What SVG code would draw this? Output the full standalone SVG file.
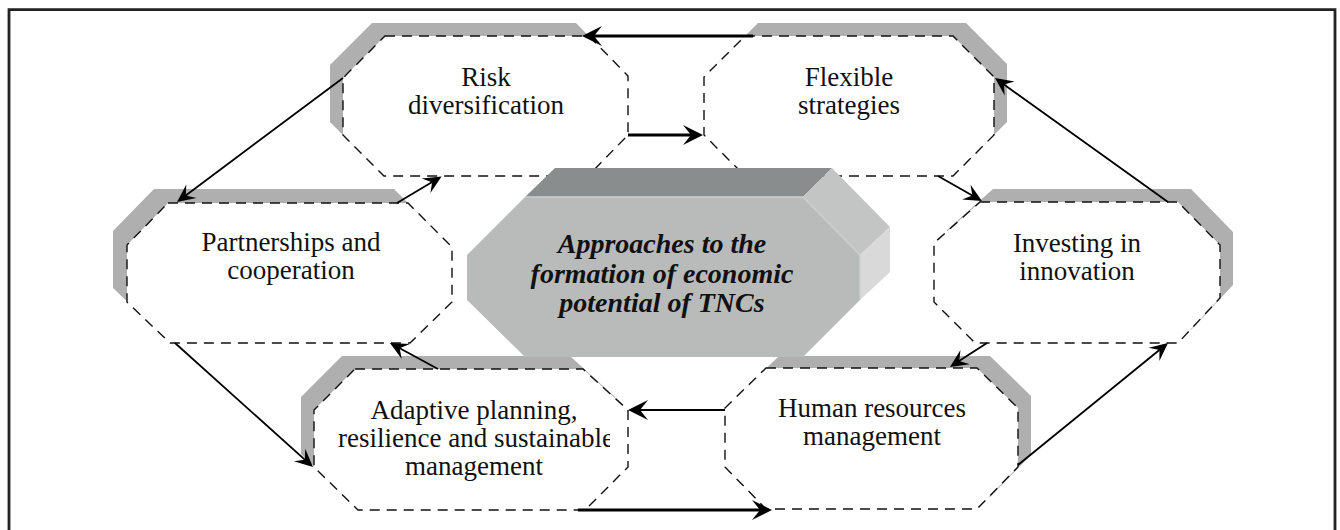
<svg xmlns="http://www.w3.org/2000/svg" width="1340" height="530" viewBox="0 0 1340 530">
  <style>
    .shadow { fill: #AFAFAF; stroke: none; }
    .oct { fill: #FFFFFF; stroke: #111111; stroke-width: 1.4; stroke-dasharray: 10 7; }
    .lbl { font-family: "Liberation Serif", "Times New Roman", serif; font-size: 27px; fill: #111111; text-anchor: middle; }
    .center { font-family: "Liberation Serif", "Times New Roman", serif; font-size: 28px; font-weight: bold; font-style: italic; fill: #111111; text-anchor: middle; }
    .thick { stroke: #000000; stroke-width: 3; fill: none; marker-end: url(#headBig); }
    .mid { stroke: #000000; stroke-width: 2.2; fill: none; marker-end: url(#headBig); }
    .thin { stroke: #000000; stroke-width: 1.8; fill: none; marker-end: url(#headSmall); }
  </style>
  <defs>
    <marker id="headBig" viewBox="-14 -12 24 24" refX="0" refY="0" markerWidth="24" markerHeight="24" markerUnits="userSpaceOnUse" orient="auto">
      <path d="M8,0 L-12,-10 L-4,0 L-12,10 Z" fill="#000000"/>
    </marker>
    <marker id="headSmall" viewBox="-12 -10 22 20" refX="0" refY="0" markerWidth="22" markerHeight="20" markerUnits="userSpaceOnUse" orient="auto">
      <path d="M8,0 L-10,-8.5 L-3,0 L-10,8.5 Z" fill="#000000"/>
    </marker>
    <clipPath id="clipAdaptive">
      <rect x="300" y="380" width="310" height="110"/>
    </clipPath>
  </defs>

  <rect x="0" y="0" width="1340" height="530" fill="#FFFFFF"/>
  <path d="M9,530 V9.7 H1335 V530" fill="none" stroke="#222222" stroke-width="2.8"/>

  <g id="node-risk">
    <polygon class="shadow" points="372,23 576,23 615,63 615,122 575,163 371,163 330,122 330,65"/>
    <polygon class="oct" points="385,36 589,36 628,76 628,135 588,176 384,176 343,135 343,78"/>
    <text class="lbl" x="486" y="86">Risk</text>
    <text class="lbl" x="486" y="114">diversification</text>
  </g>

  <g id="node-flexible">
    <polygon class="shadow" points="758,23 966,23 1007,64 1007,122 966,163 758,163 717,122 717,64"/>
    <polygon class="oct" points="745,36 953,36 994,77 994,135 953,176 745,176 704,135 704,77"/>
    <text class="lbl" x="849" y="86">Flexible</text>
    <text class="lbl" x="849" y="114">strategies</text>
  </g>

  <g id="node-partnerships">
    <polygon class="shadow" points="154,189 394,189 438,233 438,288 396,329 156,329 113,288 113,231"/>
    <polygon class="oct" points="168,203 408,203 452,247 452,302 410,343 170,343 127,302 127,245"/>
    <text class="lbl" x="291" y="251">Partnerships and</text>
    <text class="lbl" x="291" y="279">cooperation</text>
  </g>

  <g id="node-investing">
    <polygon class="shadow" points="993,189 1191,189 1233,232 1233,285 1191,330 988,330 947,289 947,230"/>
    <polygon class="oct" points="980,202 1178,202 1220,245 1220,298 1178,343 975,343 934,302 934,243"/>
    <text class="lbl" x="1077" y="252">Investing in</text>
    <text class="lbl" x="1077" y="280">innovation</text>
  </g>

  <g id="node-adaptive">
    <polygon class="shadow" points="342,356 570,356 615,397 615,454 572,497 345,497 301,454 301,397"/>
    <polygon class="oct" points="355,369 583,369 628,410 628,467 585,510 358,510 314,467 314,410"/>
    <g clip-path="url(#clipAdaptive)">
      <text class="lbl" x="474" y="419">Adaptive planning,</text>
      <text class="lbl" x="476" y="447">resilience and sustainable</text>
      <text class="lbl" x="474" y="475">management</text>
    </g>
  </g>

  <g id="node-human">
    <polygon class="shadow" points="779,356 990,356 1031,396 1031,455 990,497 779,497 738,455 738,396"/>
    <polygon class="oct" points="766,368 977,368 1018,408 1018,467 977,509 766,509 725,467 725,408"/>
    <text class="lbl" x="872" y="417">Human resources</text>
    <text class="lbl" x="872" y="445">management</text>
  </g>

  <g id="node-center">
    <polygon points="525,197 555,168 832,168 803,197" fill="#8A8D8D"/>
    <polygon points="803,197 832,168 890,227 860,255" fill="#C3C5C5"/>
    <polygon points="860,255 890,227 890,272 860,300" fill="#D9D9D9"/>
    <polygon points="525,197 803,197 860,255 860,300 803,357 525,357 467,300 467,255" fill="#B9BBBB"/>
    <polyline points="525,197 803,197 860,255 860,300" fill="none" stroke="#CDCFCF" stroke-width="1.5"/>
    <text class="center" x="662" y="253">Approaches to the</text>
    <text class="center" x="662" y="283">formation of economic</text>
    <text class="center" x="662" y="312">potential of TNCs</text>
  </g>

  <g id="connectors">
    <line class="thick" x1="753" y1="36" x2="590" y2="36"/>
    <line class="thick" x1="628" y1="135" x2="695" y2="135"/>
    <line class="thin" x1="343" y1="78" x2="183.4" y2="197.2"/>
    <line class="thin" x1="397" y1="203" x2="434.7" y2="180.6"/>
    <line class="thin" x1="1168" y1="202" x2="1001.5" y2="82.7"/>
    <line class="thin" x1="938" y1="176" x2="975" y2="197"/>
    <line class="thin" x1="987" y1="343" x2="956.7" y2="362.6"/>
    <line class="thin" x1="1018" y1="465" x2="1161.8" y2="348"/>
    <line class="mid" x1="725" y1="410" x2="636" y2="410"/>
    <line class="thick" x1="578" y1="510" x2="764" y2="510"/>
    <line class="thin" x1="175" y1="343" x2="307" y2="461.7"/>
    <line class="thin" x1="438" y1="369" x2="397" y2="346.8"/>
  </g>
</svg>
